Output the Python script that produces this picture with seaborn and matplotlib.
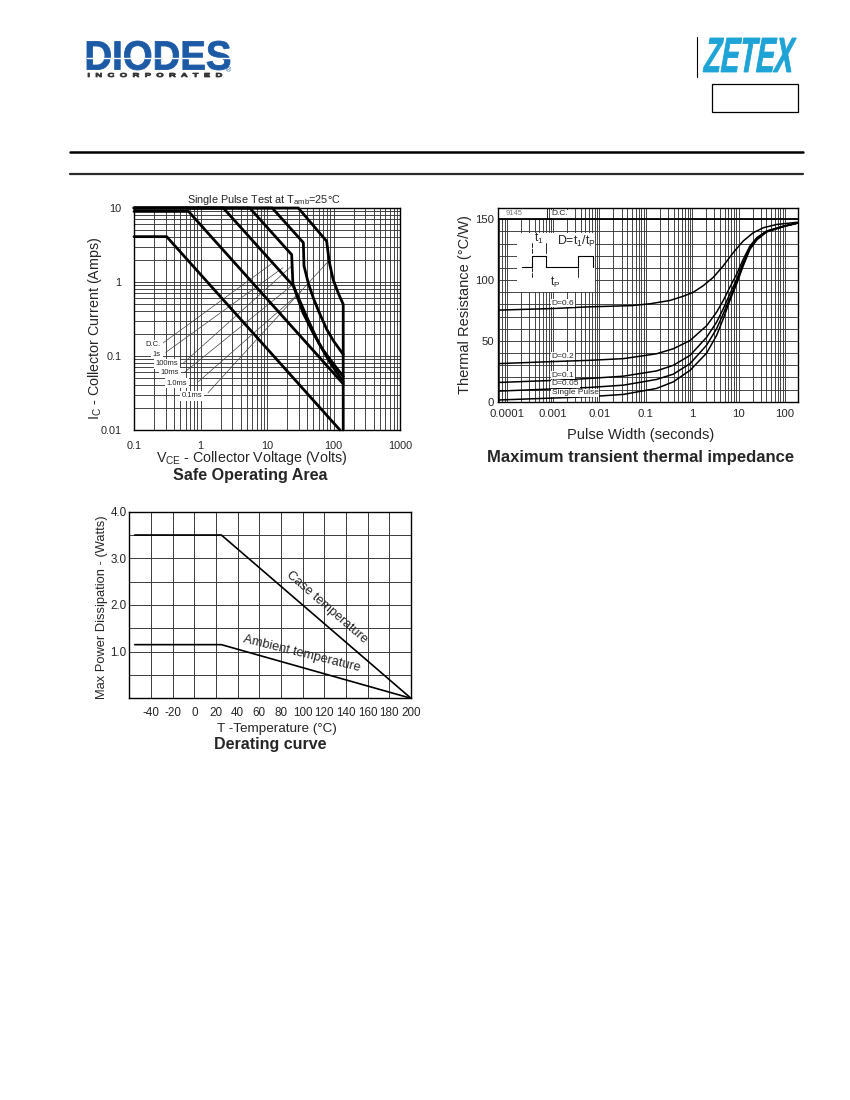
import numpy as np
import matplotlib
matplotlib.use("Agg")
import matplotlib.pyplot as plt
import seaborn as sns
from matplotlib.ticker import LogLocator, NullFormatter, MultipleLocator
from matplotlib.textpath import TextPath
from matplotlib.font_manager import FontProperties
from matplotlib.patches import PathPatch, Rectangle
from matplotlib.transforms import Affine2D
from matplotlib.lines import Line2D

# --- Safe operating area (Vce in volts, Ic in amps) ---
soa_dc_v = [0.1, 0.31, 125]
soa_dc_i = [4.1, 4.1, 0.01]
soa_1s_v = [0.1, 0.66, 140]
soa_1s_i = [9.0, 9.0, 0.042]
soa_100ms_v = [0.1, 2.2, 24.8, 30, 40, 60, 90, 140]
soa_100ms_i = [10, 10, 0.89, 0.6, 0.33, 0.15, 0.08, 0.045]
soa_10ms_v = [0.1, 5.5, 23.5, 24.5, 28, 35, 50, 70, 100, 140]
soa_10ms_i = [10, 10, 2.34, 0.95, 0.66, 0.38, 0.2, 0.12, 0.078, 0.053]
soa_1ms_v = [0.1, 12, 35.2, 36, 42, 50, 60, 79, 100, 140]
soa_1ms_i = [10, 10, 3.4, 1.65, 0.95, 0.6, 0.4, 0.23, 0.16, 0.105]
soa_01ms_v = [0.1, 29.6, 79, 86, 99, 120, 140, 140]
soa_01ms_i = [10, 10, 3.55, 1.9, 1.07, 0.68, 0.5, 0.01]
soa_names = ["D.C.", "1s", "100ms", "10ms", "1.0ms", "0.1ms"]
soa_xticks = [0.1, 1, 10, 100, 1000]
soa_xlabels = ["0.1", "1", "10", "100", "1000"]
soa_yticks = [0.01, 0.1, 1, 10]
soa_ylabels = ["0.01", "0.1", "1", "10"]

# --- Transient thermal impedance (pulse width s, degC/W) ---
th_dc_t = [6.6e-5, 194]
th_dc_r = [150, 150]
th_d06_t = [6.6e-5, 0.001, 0.006, 0.05, 0.123, 0.33, 0.64, 1.06, 1.73, 2.85, 4.68, 7.7, 12.6, 20.7, 34, 66, 194]
th_d06_r = [75.3, 76.6, 78, 79, 80.5, 83.2, 86.7, 90, 95.4, 102.2, 111.7, 122.6, 132.1, 138.9, 143, 145.7, 147.6]
th_t = [6.6e-5, 0.001, 0.006, 0.033, 0.17, 0.39, 0.9, 2.05, 3.37, 4.68, 6.5, 9.1, 12.6, 17.6, 24.6, 40, 92, 194]
th_d02_r = [31.3, 33, 34, 35.4, 39.4, 43.5, 50.3, 62.5, 73.7, 83.2, 94.1, 104.9, 117.1, 128, 134.8, 140.2, 144.3, 147]
th_d01_r = [15.8, 17.5, 19.1, 21, 25.3, 29.9, 38.1, 53, 65.5, 76.4, 88.6, 100.8, 114.4, 126.7, 134, 140.2, 144.3, 147]
th_d005_r = [8.7, 10.5, 11.7, 13.6, 18.3, 22.6, 31.3, 46.5, 60.1, 72.3, 85.1, 98.7, 113.1, 125.9, 133.4, 139.8, 144, 147]
th_single_r = [1.4, 3, 4.1, 6, 10.9, 16.3, 25.8, 40, 54.6, 68.2, 83.2, 96.8, 111.7, 125.3, 132.9, 139.5, 143.8, 147]
th_names = ["D.C.", "D=0.6", "D=0.2", "D=0.1", "D=0.05", "Single Pulse"]
th_xticks = [1e-4, 1e-3, 1e-2, 1e-1, 1, 10, 100]
th_xlabels = ["0.0001", "0.001", "0.01", "0.1", "1", "10", "100"]
th_yticks = [0, 50, 100, 150]

# --- Derating curve (degC, W) ---
dr_temp = [-55, 25, 200]
dr_case = [3.5, 3.5, 0]
dr_ambient = [1.15, 1.15, 0]
dr_xticks = list(range(-40, 201, 20))
dr_yticks = [1.0, 2.0, 3.0, 4.0]

W, H = 850, 1100
sns.set_theme(style="white")
plt.rcParams["font.family"] = ["Liberation Sans", "DejaVu Sans"]
plt.rcParams["mathtext.fontset"] = "custom"
plt.rcParams["mathtext.rm"] = "Liberation Sans"
plt.rcParams["axes.edgecolor"] = "black"
plt.rcParams["axes.linewidth"] = 1.0

fig = plt.figure(figsize=(W / 100, H / 100), dpi=100)
fig.patch.set_facecolor("white")


def rect(l, t, r, b):
    return [l / W, 1 - b / H, (r - l) / W, (b - t) / H]


def ftext(x, y, s, **kw):
    fig.text(x / W, 1 - y / H, s, **kw)


def hline(x0, x1, y, **kw):
    fig.add_artist(Line2D([x0 / 100, x1 / 100], [(H - y) / 100, (H - y) / 100],
                          transform=fig.dpi_scale_trans, **kw))


def logo(s, x0, y0, x1, y1, color, skew=0.0):
    tp = TextPath((0, 0), s, size=10, prop=FontProperties(family="Liberation Sans", weight="bold"))
    bb = tp.get_extents()
    h = (y1 - y0) / 100
    w = (x1 - x0) / 100 - np.tan(np.radians(skew)) * h
    tr = (Affine2D().translate(-bb.x0, -bb.y0).scale(w / bb.width, h / bb.height)
          .skew_deg(skew, 0).translate(x0 / 100, (H - y1) / 100))
    fig.add_artist(PathPatch(tr.transform_path(tp), facecolor=color, edgecolor=color, lw=0.6,
                             transform=fig.dpi_scale_trans))


# header
logo("DIODES", 87, 41, 230, 70, "#1d5aa6")
hline(87, 232, 57.5, color="white", lw=1.0)
logo("I  N  C  O  R  P  O  R  A  T  E  D", 88, 73, 222, 77, "#333333")
ftext(229, 71, "®", fontsize=5, color="#1d5aa6", ha="center", va="center")
logo("ZETEX", 703, 38, 797, 72, "#1ea3d6", skew=10)
fig.add_artist(Line2D([697 / 100, 697 / 100], [(H - 37) / 100, (H - 77) / 100],
                      transform=fig.dpi_scale_trans, color="black", lw=0.8))
fig.add_artist(Rectangle((712 / 100, (H - 112) / 100), 86 / 100, 28 / 100, fill=False,
                         edgecolor="black", lw=0.9, transform=fig.dpi_scale_trans))
hline(70, 803, 152, color="black", lw=1.8)
hline(70, 803, 174, color="#2a2a2a", lw=1.6)

grid_kw = dict(color="#383838", linewidth=0.65)

# ---------------- Safe operating area ----------------
ax = fig.add_axes(rect(134, 208, 400, 430))
ax.set_xscale("log")
ax.set_yscale("log")
soa_sets = [(soa_dc_v, soa_dc_i), (soa_1s_v, soa_1s_i), (soa_100ms_v, soa_100ms_i),
            (soa_10ms_v, soa_10ms_i), (soa_1ms_v, soa_1ms_i), (soa_01ms_v, soa_01ms_i)]
for v, i in soa_sets:
    sns.lineplot(x=v, y=i, ax=ax, color="black", lw=2.0, sort=False, estimator=None, clip_on=False)
ax.set_xlim(0.1, 1000)
ax.set_ylim(0.01, 10)
ax.set_xticks(soa_xticks, labels=soa_xlabels)
ax.set_yticks(soa_yticks, labels=soa_ylabels)
for a in (ax.xaxis, ax.yaxis):
    a.set_minor_locator(LogLocator(base=10, subs=np.arange(2, 10)))
    a.set_minor_formatter(NullFormatter())
ax.grid(True, which="both", **grid_kw)
ax.set_axisbelow(True)
ax.tick_params(which="both", length=0, labelsize=7.8)
ax.tick_params(axis="x", pad=8)
ax.tick_params(axis="y", pad=9)
ax.set_xlabel("")
ax.set_ylabel("")

# curve labels with leader lines (label position, leader start, leader end)
soa_lab_pos = [(0.195, 0.142), (0.22, 0.106), (0.316, 0.078), (0.348, 0.059), (0.44, 0.043), (0.74, 0.029)]
soa_lead_a = [(0.273, 0.15), (0.30, 0.112), (0.55, 0.080), (0.585, 0.061), (0.93, 0.045), (1.3, 0.032)]
soa_lead_b = [(12.3, 1.82), (17.4, 1.56), (23.8, 1.66), (25.5, 0.95), (32.4, 0.74), (79.8, 1.82)]
for name, p, a0, b0 in zip(soa_names, soa_lab_pos, soa_lead_a, soa_lead_b):
    ax.plot([a0[0], b0[0]], [a0[1], b0[1]], color="#444444", lw=0.5, zorder=1.5)
    ax.text(p[0], p[1], name, fontsize=5.5, ha="center", va="center", zorder=4,
            bbox=dict(facecolor="white", edgecolor="none", pad=1.2))

ftext(264, 200, r"Single Pulse Test at T$_\mathregular{amb}$=25°C", fontsize=7.8, ha="center", va="center")
ftext(252, 458, r"V$_\mathregular{CE}$ - Collector Voltage (Volts)", fontsize=10.3, ha="center", va="center")
ftext(95, 328, r"I$_\mathregular{C}$ - Collector Current (Amps)", fontsize=10.3, ha="center", va="center", rotation=90)
ftext(250, 475, "Safe Operating Area", fontsize=11.6, fontweight="bold", ha="center", va="center")

# ---------------- Transient thermal impedance ----------------
ax = fig.add_axes(rect(498.3, 208.3, 798.3, 401.7))
ax.set_xscale("log")
th_sets = [(th_dc_t, th_dc_r, 1.3), (th_d06_t, th_d06_r, 1.1), (th_t, th_d02_r, 1.1),
           (th_t, th_d01_r, 1.1), (th_t, th_d005_r, 1.1), (th_t, th_single_r, 1.1)]
for t, r, lw in th_sets:
    sns.lineplot(x=t, y=r, ax=ax, color="black", lw=lw, sort=False, estimator=None)
ax.set_xlim(6.6e-5, 194)
ax.set_ylim(0, 159)
ax.set_xticks(th_xticks, labels=th_xlabels)
ax.set_yticks(th_yticks, labels=[str(v) for v in th_yticks])
ax.xaxis.set_minor_locator(LogLocator(base=10, subs=np.arange(2, 10)))
ax.xaxis.set_minor_formatter(NullFormatter())
ax.yaxis.set_minor_locator(MultipleLocator(10))
ax.grid(True, which="both", **grid_kw)
ax.set_axisbelow(True)
ax.tick_params(which="both", length=0, labelsize=8.2)
ax.tick_params(axis="x", pad=5)
ax.tick_params(axis="y", pad=3)
ax.set_xlabel("")
ax.set_ylabel("")

# "9145" box above the D.C. line
ax.add_patch(Rectangle((6.6e-5, 150), 7.5e-4 - 6.6e-5, 9, facecolor="white", edgecolor="none", zorder=1))
ax.plot([7.5e-4, 7.5e-4], [150, 159], color="black", lw=0.6, zorder=2)
ax.text(1.44e-4, 154.5, "9145", fontsize=5.5, color="#777777", ha="center", va="center", zorder=3)

# curve labels sitting on each curve
lab_t = 9.3e-4
for name, (t, r, lw) in zip(th_names, th_sets):
    y = np.interp(np.log10(lab_t), np.log10(t), r)
    ax.annotate(name, (lab_t, y), xytext=(0, 1.3), textcoords="offset points", fontsize=6,
                ha="left", va="bottom", zorder=4,
                bbox=dict(facecolor="white", edgecolor="none", pad=0.3))

# duty-cycle inset
tA = ax.transAxes
ax.add_patch(Rectangle((0.061, 0.569), 0.261, 0.302, transform=tA, facecolor="white",
                       edgecolor="none", zorder=1.2))
px = [0.078, 0.111, 0.111, 0.158, 0.158, 0.267, 0.267, 0.315, 0.315]
py = [0.698, 0.698, 0.755, 0.755, 0.698, 0.698, 0.755, 0.755, 0.698]
ax.plot(px, py, transform=tA, color="black", lw=0.8, zorder=3)
for xx in (0.111, 0.158):
    ax.plot([xx, xx], [0.77, 0.82], transform=tA, color="black", lw=0.6, zorder=3)
ax.annotate("", xy=(0.111, 0.793), xytext=(0.158, 0.793), xycoords=tA,
            arrowprops=dict(arrowstyle="<->", lw=0.6, shrinkA=0, shrinkB=0, mutation_scale=5), zorder=3)
for xx in (0.111, 0.267):
    ax.plot([xx, xx], [0.645, 0.69], transform=tA, color="black", lw=0.6, zorder=3)
ax.annotate("", xy=(0.111, 0.667), xytext=(0.267, 0.667), xycoords=tA,
            arrowprops=dict(arrowstyle="<->", lw=0.6, shrinkA=0, shrinkB=0, mutation_scale=5), zorder=3)
ax.text(0.134, 0.845, r"t$_\mathregular{1}$", transform=tA, fontsize=8.5, ha="center", va="center", zorder=3)
ax.text(0.261, 0.827, r"D=t$_\mathregular{1}$/t$_\mathregular{P}$", transform=tA, fontsize=8.8,
        ha="center", va="center", zorder=3)
ax.text(0.189, 0.615, r"t$_\mathregular{P}$", transform=tA, fontsize=8.5, ha="center", va="center", zorder=3)

ftext(465, 305, "Thermal Resistance (°C/W)", fontsize=10.5, ha="center", va="center", rotation=90)
ftext(641, 435, "Pulse Width (seconds)", fontsize=10.5, ha="center", va="center")
ftext(641, 457, "Maximum transient thermal impedance", fontsize=12, fontweight="bold",
      ha="center", va="center")

# ---------------- Derating curve ----------------
ax = fig.add_axes(rect(129.3, 511.7, 411, 698.3))
sns.lineplot(x=dr_temp, y=dr_case, ax=ax, color="black", lw=1.2, sort=False, estimator=None)
sns.lineplot(x=dr_temp, y=dr_ambient, ax=ax, color="black", lw=1.2, sort=False, estimator=None)
ax.set_xlim(-60, 200)
ax.set_ylim(0, 4)
ax.set_xticks(dr_xticks, labels=[str(v) for v in dr_xticks])
ax.set_yticks(dr_yticks, labels=[f"{v:.1f}" for v in dr_yticks])
ax.yaxis.set_minor_locator(MultipleLocator(0.5))
ax.grid(True, which="both", color="#3a3a3a", linewidth=0.7)
ax.set_axisbelow(True)
ax.tick_params(which="both", length=0, labelsize=8.4)
ax.tick_params(axis="x", pad=6)
ax.tick_params(axis="y", pad=2)
ax.set_xlabel("")
ax.set_ylabel("")
ax.text(122.7, 1.96, "Case temperature", rotation=-41, fontsize=9.3, ha="center", va="center")
ax.text(99, 0.95, "Ambient temperature", rotation=-14, fontsize=9.3, ha="center", va="center")

ftext(102, 607, "Max Power Dissipation - (Watts)", fontsize=9.3, ha="center", va="center", rotation=90)
ftext(277, 729, "T -Temperature (°C)", fontsize=9.7, ha="center", va="center")
ftext(270, 745, "Derating curve", fontsize=11.5, fontweight="bold", ha="center", va="center")

fig.savefig("out.png", dpi=100, facecolor="white")
